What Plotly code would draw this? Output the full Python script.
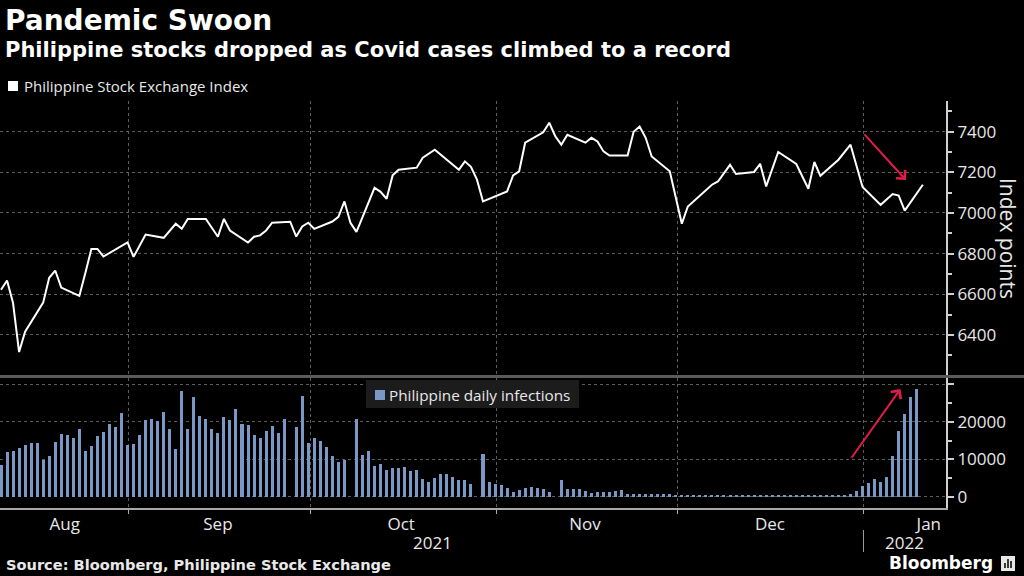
import plotly.graph_objects as go
import pandas as pd

# ---------------- data ----------------
psei_dates = [
    "2021-08-10", "2021-08-11", "2021-08-12", "2021-08-13", "2021-08-14", "2021-08-16",
    "2021-08-17", "2021-08-18", "2021-08-19", "2021-08-20", "2021-08-23", "2021-08-24",
    "2021-08-25", "2021-08-26", "2021-08-27", "2021-08-31", "2021-09-01", "2021-09-03",
    "2021-09-06", "2021-09-08", "2021-09-09", "2021-09-10", "2021-09-13", "2021-09-15",
    "2021-09-16", "2021-09-17", "2021-09-20", "2021-09-21", "2021-09-22", "2021-09-23",
    "2021-09-24", "2021-09-27", "2021-09-28", "2021-09-29", "2021-09-30", "2021-10-01",
    "2021-10-04", "2021-10-05", "2021-10-06", "2021-10-07", "2021-10-08", "2021-10-11",
    "2021-10-12", "2021-10-13", "2021-10-14", "2021-10-15", "2021-10-18", "2021-10-19",
    "2021-10-21", "2021-10-25", "2021-10-26", "2021-10-27", "2021-10-28", "2021-10-29",
    "2021-11-02", "2021-11-03", "2021-11-04", "2021-11-05", "2021-11-08", "2021-11-09",
    "2021-11-10", "2021-11-11", "2021-11-12", "2021-11-15", "2021-11-16", "2021-11-17",
    "2021-11-18", "2021-11-19", "2021-11-22", "2021-11-23", "2021-11-24", "2021-11-25",
    "2021-11-26", "2021-11-29", "2021-12-01", "2021-12-02", "2021-12-06", "2021-12-07",
    "2021-12-09", "2021-12-10", "2021-12-13", "2021-12-14", "2021-12-15", "2021-12-17",
    "2021-12-20", "2021-12-22", "2021-12-23", "2021-12-24", "2021-12-27", "2021-12-29",
    "2021-12-31", "2022-01-03", "2022-01-05", "2022-01-06", "2022-01-07", "2022-01-10",
]
psei_values = [
    6622, 6668, 6557, 6316, 6416, 6508,
    6559, 6681, 6717, 6633, 6592, 6705,
    6823, 6823, 6786, 6855, 6784, 6894,
    6878, 6947, 6922, 6971, 6971, 6883,
    6971, 6914, 6855, 6883, 6890, 6914,
    6952, 6957, 6884, 6934, 6952, 6922,
    6958, 6981, 7057, 6952, 6907, 7124,
    7104, 7070, 7185, 7213, 7223, 7272,
    7311, 7213, 7254, 7227, 7164, 7057,
    7106, 7185, 7205, 7346, 7397, 7444,
    7377, 7336, 7385, 7346, 7370, 7352,
    7303, 7283, 7283, 7400, 7425, 7370,
    7278, 7205, 6947, 7032, 7139, 7155,
    7237, 7192, 7202, 7242, 7131, 7300,
    7241, 7119, 7251, 7183, 7262, 7336,
    7128, 7040, 7093, 7086, 7012, 7139,
]

infection_start = "2021-08-10"
infections = [
    8482, 11875, 12321, 13036, 13929, 14375, 14375, 9821, 10982, 14643,
    16875, 16429, 15804, 18125, 12143, 13482, 16250, 17321, 19464, 18571,
    22411, 13750, 14196, 16607, 20357, 20625, 20089, 22589, 18125, 12768,
    28125, 18125, 26518, 21429, 20804, 18125, 17143, 21250, 20357, 23304,
    19464, 19018, 16518, 15625, 17411, 18750, 16964, 20804, None, 18571,
    26786, 14464, 15625, 14911, 13304, 10804, 9196, 9911, None, 20804,
    11071, 12143, 8304, 8750, 7143, 7679, 7679, 7857, 6964, 7143,
    4643, 3839, 4911, 6071, 6071, 5268, 4554, 4464, 3304,
    None, 11339, 3839, 3304, 3125, 2232, 1339, 1786, 2232, 2500, 2411,
    2054, 1339, None, 4554, 2054, 1964, 2054, 1518, 893, 1161,
    1339, 1339, 1518, 1786, 625, 804, 804, 714, 714, 804,
    625, 625, 446, 268, 268, 268, 357, 357,
    357, 268, 268, 357, 446, 268, 268, 268, 268, 446,
    268, 268, 268, 268, 268, 268, 268, 357, 357, 268,
    268, 268, 357,
    625, 1607, 2857, 3750, 4643, 3929, 5357, 10804, 17411, 22054, 26607, 28750,
]
infection_dates = pd.date_range(infection_start, periods=len(infections), freq="D")

month_label_dates = ["2021-08-20 14:00", "2021-09-15 00:00", "2021-10-15 10:00",
                     "2021-11-14 22:00", "2021-12-15 15:00", "2022-01-11 00:00"]
month_labels = ["Aug", "Sep", "Oct", "Nov", "Dec", "Jan"]
month_bounds = ["2021-08-31 02:00", "2021-09-30 07:00", "2021-10-31 04:00",
                "2021-11-30 05:00", "2021-12-31 02:00"]
index_ticks = [6400, 6600, 6800, 7000, 7200, 7400]
infection_ticks = [0, 10000, 20000, 30000]
infection_ticktext = ["0", "10000", "20000", ""]

# ---------------- styling ----------------
BG = "#000000"
GRID = "#5c5c5c"
TXT = "#e8e8e8"
BAR = "#7b97c6"
RED = "#e31b4b"
TICKFONT = dict(family="Open Sans", size=17, color=TXT)

W, H = 1024, 576
ML, MR, MT, MB = 0, 78, 101, 68
PH = H - MT - MB          # plot height in px
PW = W - ML - MR


def py(y):  # pixel y -> paper y
    return (H - MB - y) / PH


def px(x):  # pixel x -> paper x
    return (x - ML) / PW


fig = go.Figure()

fig.add_trace(go.Scatter(
    x=psei_dates, y=psei_values, mode="lines",
    line=dict(color="#ffffff", width=2),
    xaxis="x2", yaxis="y", showlegend=False,
))
fig.add_trace(go.Bar(
    x=infection_dates, y=infections, marker=dict(color=BAR, line=dict(width=0)),
    width=0.5 * 86400000, xaxis="x", yaxis="y2", showlegend=False,
))

x_range = ["2021-08-09 20:00", "2022-01-13 20:24"]
minor_grid = dict(tickmode="array", tickvals=month_bounds, showgrid=True,
                  gridcolor=GRID, griddash="dot", gridwidth=1)

fig.update_layout(
    width=W, height=H,
    margin=dict(l=ML, r=MR, t=MT, b=MB),
    paper_bgcolor=BG, plot_bgcolor=BG,
    bargap=0,
    xaxis=dict(
        type="date", range=x_range, anchor="y2",
        tickmode="array", tickvals=month_label_dates, ticktext=month_labels,
        ticks="", showgrid=False, zeroline=False,
        showline=True, linecolor="#a8a8a8", linewidth=1.5,
        tickfont=dict(family="Open Sans", size=17, color=TXT),
        minor=dict(**minor_grid, ticks="outside", ticklen=4, tickcolor="#a8a8a8"),
    ),
    xaxis2=dict(
        type="date", range=x_range, anchor="y", matches="x",
        showticklabels=False, ticks="", showgrid=False, zeroline=False,
        showline=False,
        tickmode="array", tickvals=month_label_dates,
        minor=dict(**minor_grid, ticks=""),
    ),
    yaxis=dict(
        domain=[py(375.6), 1], range=[6200, 7551], side="right", anchor="x2",
        tickmode="array", tickvals=index_ticks,
        showgrid=True, gridcolor=GRID, griddash="dot", gridwidth=1, zeroline=False,
        showline=True, linecolor="#d0d0d0", linewidth=2,
        ticks="outside", ticklen=6, tickwidth=2, tickcolor="#d0d0d0",
        tickfont=TICKFONT,
        minor=dict(tickmode="linear", tick0=6200, dtick=100, ticks="outside",
                   ticklen=4, tickcolor="#d0d0d0", showgrid=False),
    ),
    yaxis2=dict(
        domain=[0, py(378)], range=[-3017, 31694], side="right", anchor="x",
        tickmode="array", tickvals=infection_ticks, ticktext=infection_ticktext,
        showgrid=True, gridcolor=GRID, griddash="dot", gridwidth=1, zeroline=False,
        showline=True, linecolor="#d0d0d0", linewidth=2,
        ticks="outside", ticklen=6, tickwidth=2, tickcolor="#d0d0d0",
        tickfont=TICKFONT,
        minor=dict(tickmode="linear", tick0=0, dtick=5000, ticks="outside",
                   ticklen=4, tickcolor="#d0d0d0", showgrid=False),
    ),
)

shapes = [
    # separator between the two panels
    dict(type="line", xref="paper", yref="paper", x0=px(0), x1=px(1024),
         y0=py(376.5), y1=py(376.5), line=dict(color="#5a5a5a", width=3), layer="above"),
    # legend square (index)
    dict(type="rect", xref="paper", yref="paper", x0=px(8), x1=px(18),
         y0=py(91), y1=py(81), fillcolor="#ffffff", line=dict(width=0)),
    # legend box (infections)
    dict(type="rect", xref="paper", yref="paper", x0=px(366), x1=px(579),
         y0=py(408), y1=py(380), fillcolor="#1c1c1c", line=dict(width=0), layer="above"),
    dict(type="rect", xref="paper", yref="paper", x0=px(375), x1=px(385),
         y0=py(400), y1=py(390), fillcolor=BAR, line=dict(width=0), layer="above"),
    # year separator
    dict(type="line", xref="paper", yref="paper", x0=px(863.5), x1=px(863.5),
         y0=py(530), y1=py(552), line=dict(color="#9a9a9a", width=1)),
    # Bloomberg icon
    dict(type="rect", xref="paper", yref="paper", x0=px(1001), x1=px(1015),
         y0=py(571), y1=py(556), fillcolor="#e8e8e8", line=dict(width=0)),
    dict(type="line", xref="paper", yref="paper", x0=px(1005), x1=px(1005),
         y0=py(568), y1=py(563), line=dict(color="#000000", width=1.5)),
    dict(type="line", xref="paper", yref="paper", x0=px(1008), x1=px(1008),
         y0=py(568), y1=py(559), line=dict(color="#000000", width=1.5)),
    dict(type="line", xref="paper", yref="paper", x0=px(1011), x1=px(1011),
         y0=py(568), y1=py(561), line=dict(color="#000000", width=1.5)),
]
fig.update_layout(shapes=shapes)

ann = [
    dict(text="<b>Pandemic Swoon</b>", x=px(3), y=py(20.5), xanchor="left", yanchor="middle",
         font=dict(family="DejaVu Sans", size=28, color="#ffffff")),
    dict(text="<b>Philippine stocks dropped as Covid cases climbed to a record</b>",
         x=px(3), y=py(50), xanchor="left", yanchor="middle",
         font=dict(family="DejaVu Sans", size=21, color="#ffffff")),
    dict(text="Philippine Stock Exchange Index", x=px(22), y=py(86.5),
         xanchor="left", yanchor="middle",
         font=dict(family="Open Sans", size=15, color=TXT)),
    dict(text="Philippine daily infections", x=px(387), y=py(395),
         xanchor="left", yanchor="middle",
         font=dict(family="Open Sans", size=15.3, color=TXT)),
    dict(text="Index points", x=px(1008), y=py(238), xanchor="center", yanchor="middle",
         textangle=90, font=dict(family="Open Sans", size=21, color=TXT)),
    dict(text="2021", x=px(432), y=py(542), xanchor="center", yanchor="middle",
         font=dict(family="Open Sans", size=17, color=TXT)),
    dict(text="2022", x=px(904), y=py(542), xanchor="center", yanchor="middle",
         font=dict(family="Open Sans", size=17, color=TXT)),
    dict(text="<b>Source: Bloomberg, Philippine Stock Exchange</b>", x=px(4), y=py(564),
         xanchor="left", yanchor="middle",
         font=dict(family="DejaVu Sans", size=14.6, color=TXT)),
    dict(text="<b>Bloomberg</b>", x=px(995), y=py(563), xanchor="right", yanchor="middle",
         font=dict(family="DejaVu Sans", size=17, color="#ffffff")),
]
for a in ann:
    a.update(xref="paper", yref="paper", showarrow=False)

# red arrows
ann.append(dict(x="2022-01-07 05:00", y=7162, ax="2021-12-31 02:00", ay=7394,
                xref="x2", yref="y", axref="x2", ayref="y", text="", showarrow=True,
                arrowhead=4, arrowsize=1.2, arrowwidth=2, arrowcolor=RED))
ann.append(dict(x="2022-01-06 07:00", y=28760, ax="2021-12-29 00:00", ay=10000,
                xref="x", yref="y2", axref="x", ayref="y2", text="", showarrow=True,
                arrowhead=4, arrowsize=1.2, arrowwidth=2, arrowcolor=RED))
fig.update_layout(annotations=ann)

fig.write_html(
    "out.html",
    config={"displayModeBar": False},
    post_script="document.body.style.margin='0px';document.body.style.background='#000';",
)
